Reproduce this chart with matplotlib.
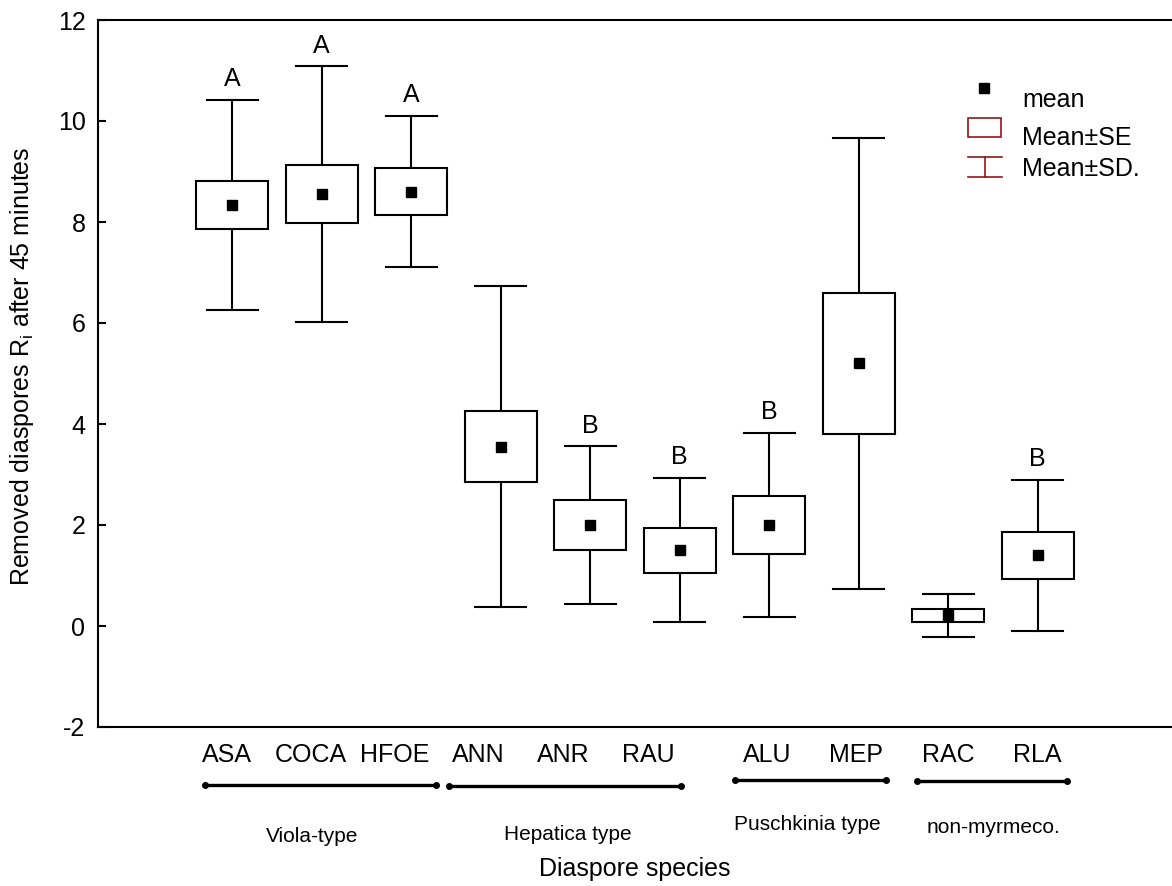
#diaspore_removal.py

"""Box plot of removed diaspores (mean, mean+-SE, mean+-SD) per diaspore species."""

import matplotlib
matplotlib.use("Agg")
import matplotlib.pyplot as plt
from matplotlib.patches import Rectangle
from matplotlib.lines import Line2D
from matplotlib.transforms import blended_transform_factory

plt.rcParams['font.family'] = ['Liberation Sans', 'DejaVu Sans']
plt.rcParams['mathtext.fontset'] = 'custom'
plt.rcParams['mathtext.rm'] = 'Liberation Sans'
plt.rcParams['mathtext.it'] = 'Liberation Sans'
plt.rcParams['axes.unicode_minus'] = False

#Species and their summary statistics
species = ["ASA", "COCA", "HFOE", "ANN", "ANR", "RAU", "ALU", "MEP", "RAC", "RLA"]
means = [8.34, 8.55, 8.60, 3.55, 2.00, 1.50, 2.00, 5.20, 0.21, 1.40]
se = [0.47, 0.57, 0.47, 0.70, 0.50, 0.45, 0.57, 1.40, 0.13, 0.47]
sd = [2.08, 2.53, 1.50, 3.18, 1.56, 1.43, 1.82, 4.46, 0.42, 1.50]
letters = ["A", "A", "A", "", "B", "B", "B", "", "", "B"]

#Diaspore types and the species each one spans
groups = ["Viola-type", "Hepatica type", "Puschkinia type", "non-myrmeco."]

#Layout of the hand-placed labels under the axis
label_x = [0.94, 1.88, 2.82, 3.75, 4.70, 5.65, 6.98, 7.97, 9.00, 9.99]
bracket_x = [(0.69, 3.28), (3.42, 6.01), (6.62, 8.30), (8.65, 10.33)]
bracket_y = [0.114, 0.113, 0.120, 0.118]
group_x = [1.89, 4.75, 7.43, 9.50]
group_y = [0.050, 0.052, 0.063, 0.060]

W, H = 1172, 886
fig = plt.figure(figsize=(W / 100, H / 100), dpi=100)
ax = fig.add_axes([98 / W, 1 - 727 / H, 1 - 98 / W, 707 / H])

lw = 1.5
box_w = 0.80
cap_w = 0.565
fs = 18
xs = list(range(1, len(species) + 1))

for x, m, s, d in zip(xs, means, se, sd):
    #Whiskers (mean +- SD) with caps
    ax.plot([x, x], [m - d, m + d], color="black", lw=lw, zorder=1)
    ax.plot([x - cap_w / 2, x + cap_w / 2], [m + d, m + d], color="black", lw=lw, zorder=1)
    ax.plot([x - cap_w / 2, x + cap_w / 2], [m - d, m - d], color="black", lw=lw, zorder=1)
    #Box (mean +- SE)
    ax.add_patch(Rectangle((x - box_w / 2, m - s), box_w, 2 * s,
                           facecolor="white", edgecolor="black", lw=lw, zorder=2))
    #Mean
    ax.plot(x, m, marker="s", color="black", markersize=7, zorder=3)

#Significance letters above the whiskers
for x, m, d, let in zip(xs, means, sd, letters):
    if let:
        ax.text(x, m + d + 0.27, let, ha="center", va="baseline", fontsize=fs)

ax.set_xlim(-0.5, 11.5)
ax.set_ylim(-2, 12)
ax.set_yticks(range(-2, 13, 2))
ax.set_xticks([])
ax.tick_params(axis="y", direction="in", length=6, width=lw, labelsize=fs, pad=9)
for side in ["left", "bottom", "top"]:
    ax.spines[side].set_linewidth(lw)
ax.spines["right"].set_visible(False)

fig.text(22 / W, 1 - 366 / H, r"Removed diaspores $\mathregular{R_i}$ after 45 minutes",
         rotation=90, ha="center", va="center", fontsize=fs)

#Species names, type brackets and type names
trans = blended_transform_factory(ax.transData, fig.transFigure)
for x, name in zip(label_x, species):
    ax.text(x, 1 - 762 / H, name, transform=trans, ha="center", va="baseline",
            fontsize=fs, clip_on=False)
for (x0, x1), y in zip(bracket_x, bracket_y):
    ax.add_line(Line2D([x0, x1], [y, y], transform=trans, color="black", lw=2.4,
                       marker="o", markersize=4, clip_on=False))
for x, y, g in zip(group_x, group_y, groups):
    ax.text(x, y, g, transform=trans, ha="center", va="baseline", fontsize=15,
            clip_on=False)

fig.text((98 + W) / 2 / W, 1 - 876 / H, "Diaspore species", ha="center",
         va="baseline", fontsize=fs)

#Legend drawn by hand in figure pixels
def fxy(px, py):
    return px / W, 1 - py / H

dark_red = "#8b1a1a"
fig.add_artist(Line2D(*zip(fxy(984, 88)), marker="s", color="black", markersize=7,
                      transform=fig.transFigure))
fig.add_artist(Rectangle(fxy(968, 137), 33 / W, 19 / H, facecolor="white",
                         edgecolor=dark_red, lw=1.2, transform=fig.transFigure))
for py in (157, 177):
    fig.add_artist(Line2D(*zip(fxy(968, py), fxy(1002, py)), color=dark_red, lw=1.2,
                          transform=fig.transFigure))
fig.add_artist(Line2D(*zip(fxy(985, 157), fxy(985, 177)), color=dark_red, lw=1.2,
                      transform=fig.transFigure))
for py, txt in [(107, "mean"), (145, "Mean±SE"), (176, "Mean±SD.")]:
    fig.text(*fxy(1022, py), txt, ha="left", va="baseline", fontsize=fs)

fig.savefig("out.png", dpi=100)
